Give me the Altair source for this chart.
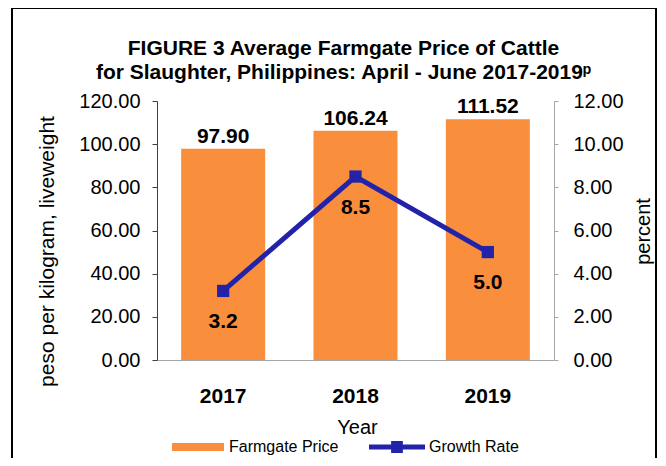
import altair as alt
import pandas as pd

years = ["2017", "2018", "2019"]
prices = [97.90, 106.24, 111.52]
growth = [3.2, 8.5, 5.0]
series_price = "Farmgate Price"
series_growth = "Growth Rate"

ORANGE = "#F98E3C"
BLUE = "#2323AA"
FONT = "Liberation Sans"

df = pd.DataFrame({
    "Year": years,
    "Price": prices,
    "Growth": growth,
    "s1": [series_price] * 3,
    "s2": [series_growth] * 3,
})

base = alt.Chart(df)

X = alt.X("Year:N", sort=years, scale=alt.Scale(paddingInner=0, paddingOuter=0),
          axis=alt.Axis(title="Year", labelFontSize=21, labelFontWeight="bold", labelColor="black",
                        labelAngle=0, ticks=False, labelPadding=25, domainColor="#A6A6A6",
                        titleFontSize=20, titleFontWeight="normal", titleColor="black",
                        titleX=200, titleY=67, titleBaseline="middle", titleAlign="center"))

left_axis = alt.Axis(title="peso per kilogram, liveweight", orient="left",
                     values=[0, 20, 40, 60, 80, 100, 120], format=".2f", grid=False,
                     labelFontSize=20, labelColor="black", labelPadding=12,
                     tickSize=5, tickColor="#404040", domainColor="#404040",
                     titleFontSize=21, titleFontWeight="normal", titleColor="black",
                     titleAngle=270, titleX=-110, titleY=150, titleAlign="center",
                     titleBaseline="middle")

right_axis = alt.Axis(title="percent", orient="right",
                      values=[0, 2, 4, 6, 8, 10, 12], format=".2f", grid=False,
                      labelFontSize=20, labelColor="black", labelPadding=15,
                      tickSize=4, tickColor="#A6A6A6", domainColor="#A6A6A6",
                      titleFontSize=20, titleFontWeight="normal", titleColor="black",
                      titleAngle=270, titleX=89, titleY=130, titleAlign="center",
                      titleBaseline="middle")

y_left = alt.Y("Price:Q", scale=alt.Scale(domain=[0, 120]), axis=left_axis)
y_right = alt.Y("Growth:Q", scale=alt.Scale(domain=[0, 12]), axis=right_axis)

bars = base.mark_bar(size=84).encode(
    x=X,
    y=y_left,
    color=alt.Color("s1:N", scale=alt.Scale(domain=[series_price], range=[ORANGE]),
                    legend=alt.Legend(orient="none", legendX=15, legendY=320, title=None,
                                      symbolType="M-1,-0.154H1V0.154H-1Z", symbolSize=2704,
                                      symbolStrokeWidth=0, symbolOpacity=1, labelOffset=5,
                                      labelFontSize=16, labelColor="black", labelFont=FONT,
                                      padding=0)),
)

bar_text = base.mark_text(dy=-6, baseline="alphabetic", fontWeight="bold", fontSize=21,
                          color="black", font=FONT).encode(
    x=X,
    y=y_left,
    text=alt.Text("Price:Q", format=".2f"),
)

line = base.mark_line(strokeWidth=5, color=BLUE).encode(
    x=X,
    y=y_right,
)

points = base.mark_point(shape="square", filled=True, size=150, opacity=1).encode(
    x=X,
    y=y_right,
    color=alt.Color("s2:N", scale=alt.Scale(domain=[series_growth], range=[BLUE]),
                    legend=alt.Legend(orient="none", legendX=212, legendY=318, title=None,
                                      symbolType="M-1,-0.09H1V0.09H-1Z M-0.21,-0.21H0.21V0.21H-0.21Z",
                                      symbolSize=3136, symbolStrokeWidth=0, symbolOpacity=1,
                                      labelOffset=4, labelFontSize=16, labelColor="black",
                                      labelFont=FONT, padding=0)),
)

growth_text = base.mark_text(dy=37, baseline="alphabetic", fontWeight="bold", fontSize=21,
                             color="black", font=FONT).encode(
    x=X,
    y=y_right,
    text=alt.Text("Growth:Q", format=".1f"),
)

frame = alt.Chart(pd.DataFrame({"f": [0]})).mark_rect(
    fill=None, stroke="black", strokeWidth=2
).encode(
    x=alt.value(-145), x2=alt.value(499), y=alt.value(-93), y2=alt.value(380)
)

left = alt.layer(bars, bar_text)
right = alt.layer(line, points, growth_text)

chart = alt.layer(left, right, frame).resolve_scale(
    y="independent", color="independent"
).properties(
    width=397,
    height=259,
    autosize=alt.AutoSizeParams(type="none"),
    padding={"left": 149, "top": 93, "right": 104, "bottom": 98},
    title=alt.TitleParams(
        text=["FIGURE 3  Average Farmgate Price of Cattle",
              "for Slaughter, Philippines: April - June 2017-2019ᵖ"],
        fontSize=21, fontWeight="bold", color="black", font=FONT,
        anchor="middle", frame="group", dx=-12, offset=18, dy=94, lineHeight=24,
    ),
).configure(
    font=FONT,
).configure_view(
    stroke=None,
)

chart.save("out.html", embed_options={"renderer": "svg", "actions": False})
